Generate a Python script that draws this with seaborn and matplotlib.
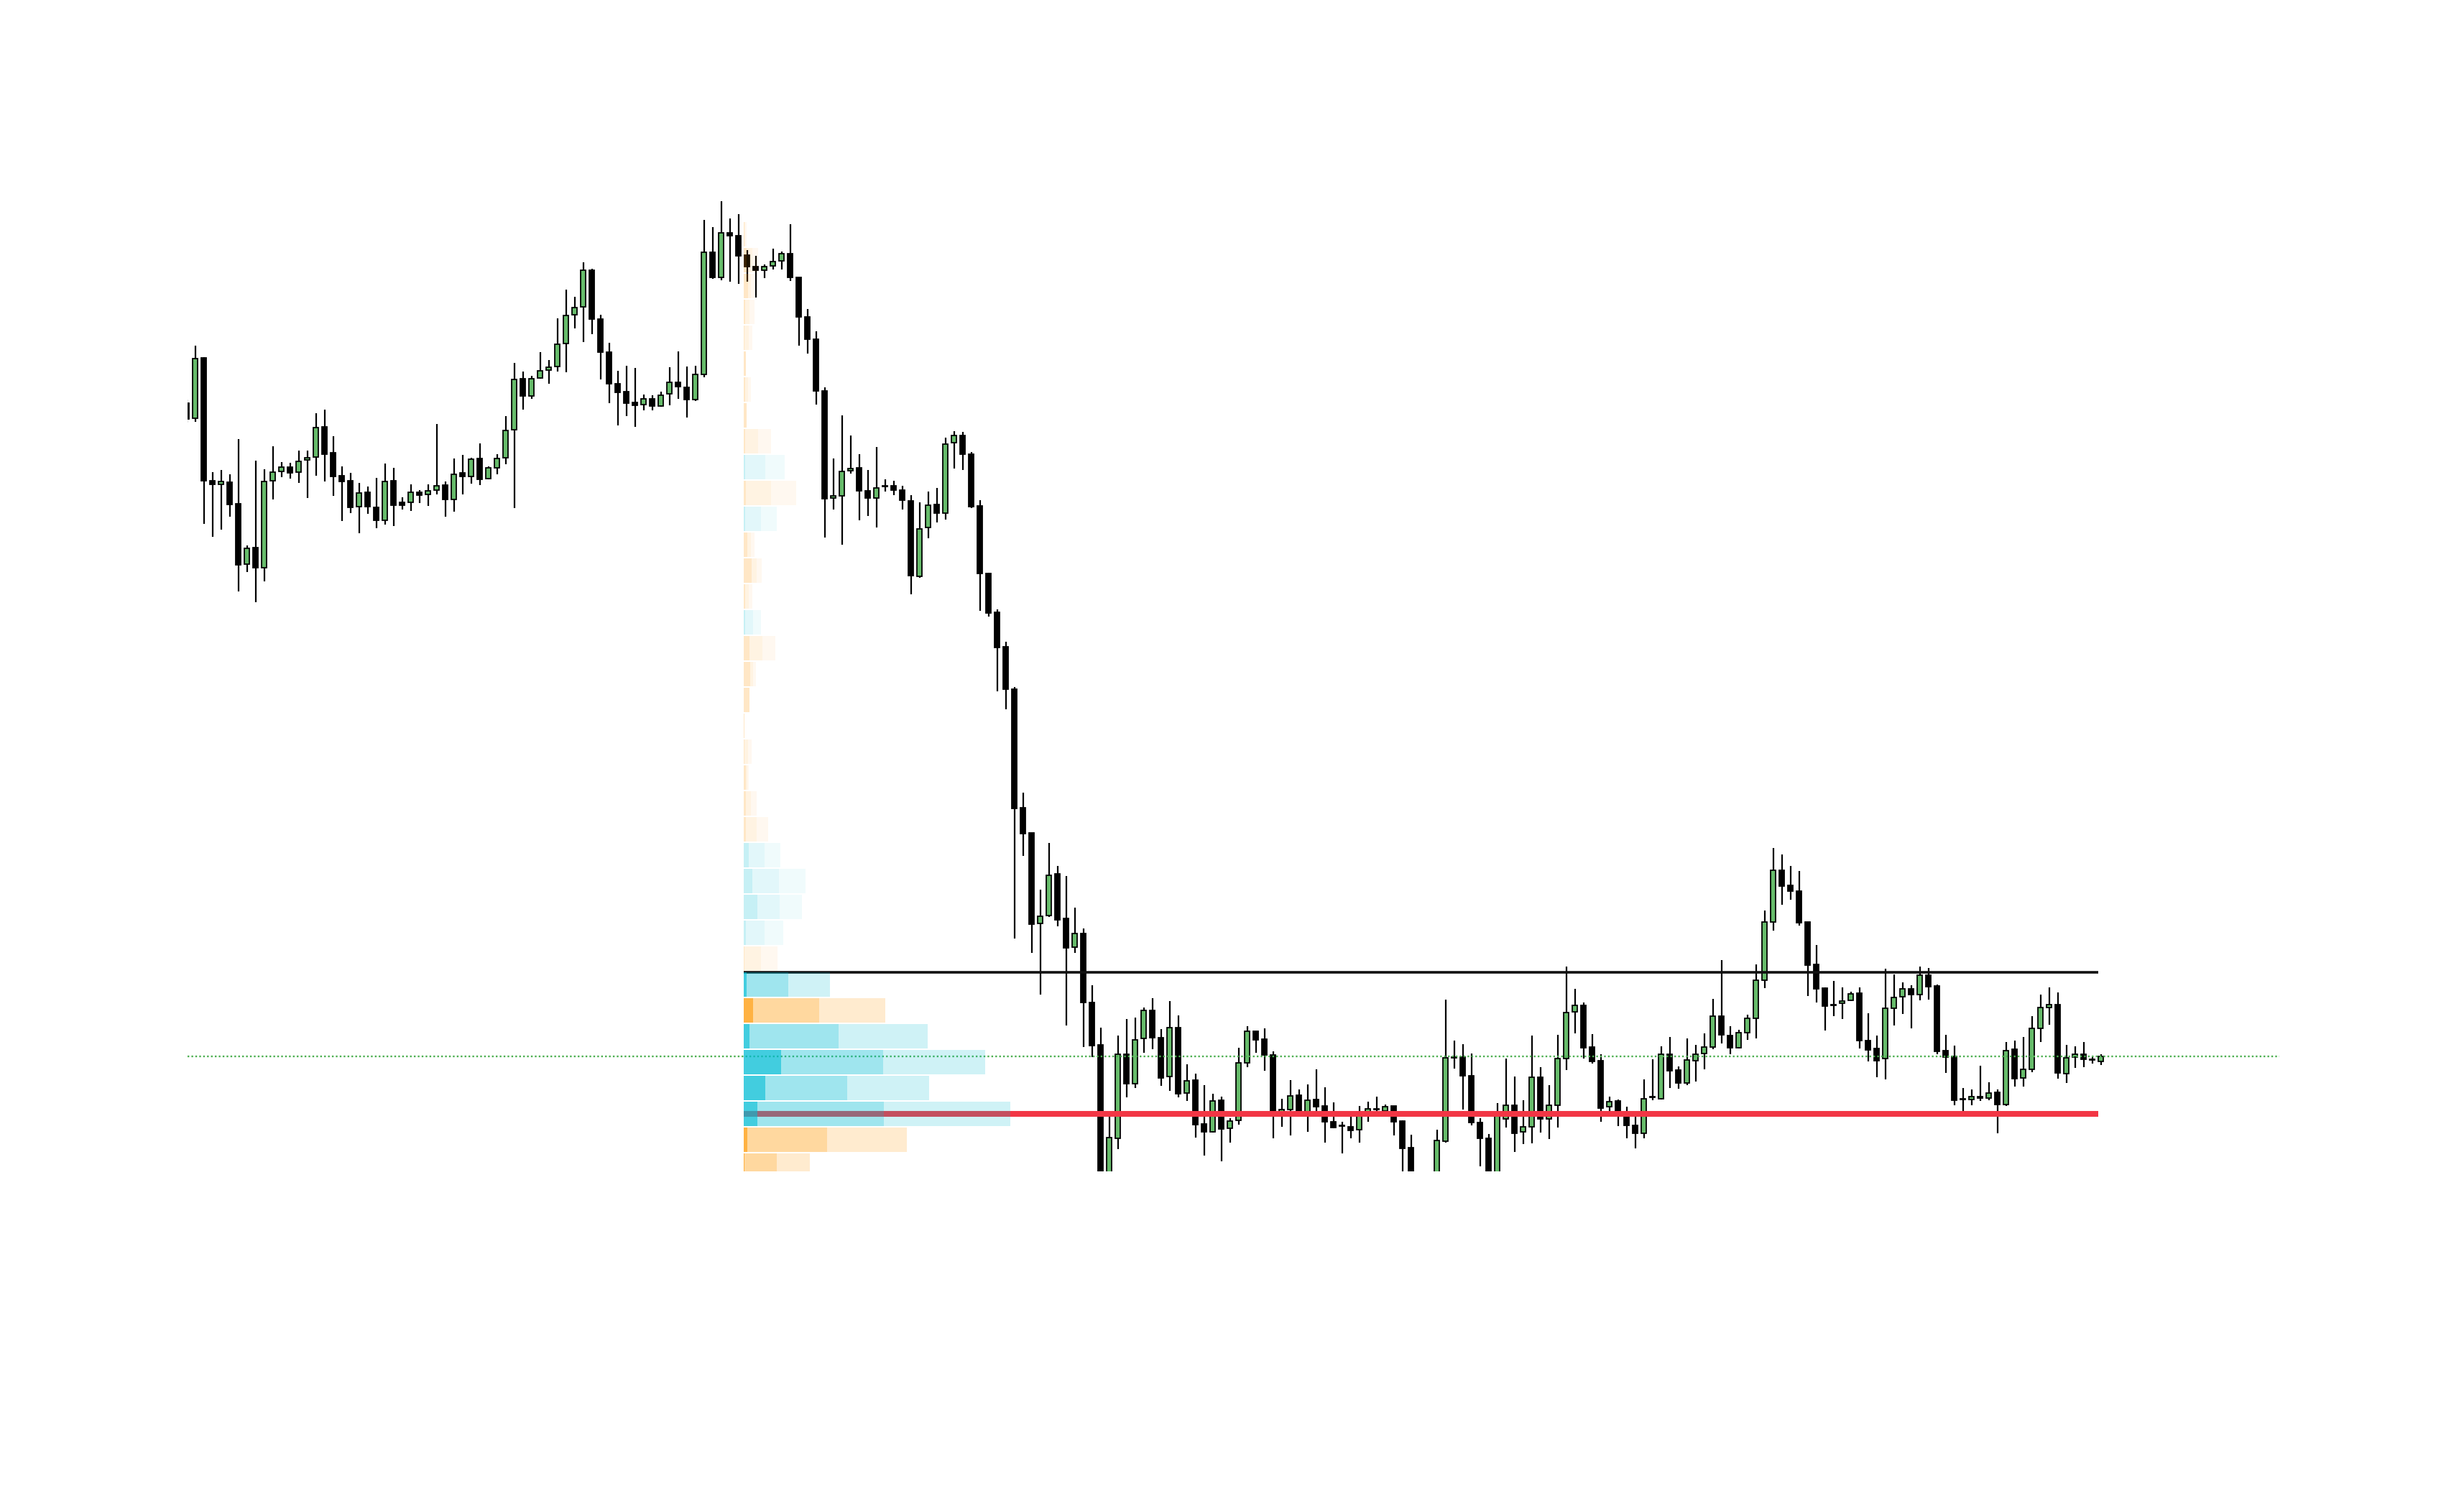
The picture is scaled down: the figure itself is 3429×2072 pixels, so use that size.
import numpy as np
import matplotlib
matplotlib.use("Agg")
import matplotlib.pyplot as plt
import seaborn as sns
from matplotlib.colors import to_rgba

# candles, oldest first (price units)
opens = [
    143.9, 141.8, 150.2, 133.1, 132.6, 132.9, 129.9, 121.5, 123.8, 121.0,
    133.1, 134.4, 135.0, 134.3, 136.0, 136.4, 140.6, 137.0, 133.8, 133.1,
    129.5, 131.5, 129.4, 127.6, 133.1, 130.1, 130.1, 131.5, 131.2, 131.8,
    132.5, 130.5, 134.2, 133.7, 136.2, 133.4, 134.9, 136.3, 140.2, 147.3,
    144.9, 147.4, 148.5, 149.0, 152.2, 156.2, 157.3, 162.4, 155.6, 151.0,
    146.6, 145.5, 144.0, 143.7, 144.5, 143.5, 145.2, 146.8, 146.1, 144.4,
    147.9, 164.9, 161.4, 167.6, 167.2, 164.5, 162.9, 162.4, 163.0, 163.7,
    164.7, 161.4, 155.9, 152.8, 145.6, 130.7, 131.0, 134.5, 134.9, 131.7,
    130.7, 132.4, 132.4, 131.8, 130.3, 119.8, 126.6, 129.8, 128.6, 138.4,
    139.4, 136.8, 129.6, 120.2, 114.8, 110.0, 104.1, 87.6, 84.1, 71.5,
    72.6, 78.4, 72.2, 68.2, 70.1, 60.5, 54.6, 34.5, 41.6, 53.3,
    49.2, 55.5, 59.4, 55.6, 50.2, 57.0, 47.9, 49.7, 43.6, 42.5,
    46.9, 43.0, 44.1, 52.1, 56.5, 55.4, 53.2, 45.0, 45.6, 47.6,
    44.8, 47.0, 46.1, 43.9, 43.4, 43.2, 42.8, 45.2, 45.7, 45.4,
    46.1, 44.0, 40.3, 36.0, 31.0, 35.0, 41.2, 52.9, 52.9, 50.3,
    43.8, 41.6, 35.0, 44.3, 46.2, 42.5, 43.2, 50.1, 44.3, 46.2,
    52.7, 59.2, 60.1, 54.3, 52.4, 46.0, 46.8, 45.2, 43.4, 42.3,
    47.3, 47.1, 53.3, 51.1, 49.3, 52.4, 53.4, 54.3, 58.6, 55.9,
    54.2, 56.3, 58.3, 63.6, 71.7, 78.9, 76.8, 76.0, 71.7, 65.8,
    62.5, 60.2, 60.4, 60.8, 61.8, 55.2, 54.1, 52.7, 59.7, 61.3,
    62.4, 61.6, 64.3, 62.8, 53.8, 53.0, 47.0, 47.0, 47.4, 47.2,
    48.0, 46.3, 54.0, 50.0, 51.2, 56.9, 59.8, 60.2, 50.6, 52.9,
    53.3, 52.6, 52.3,
]
highs = [
    144.4, 151.9, 150.3, 134.3, 134.6, 134.0, 138.9, 124.1, 135.9, 134.7,
    137.9, 135.7, 135.6, 137.3, 137.3, 142.5, 143.0, 139.3, 135.1, 134.2,
    132.8, 132.3, 133.5, 135.5, 134.9, 130.8, 132.6, 131.8, 132.6, 141.0,
    133.0, 136.2, 136.7, 136.3, 138.3, 135.1, 136.8, 142.1, 149.5, 148.3,
    147.7, 151.0, 149.9, 155.7, 159.7, 158.7, 163.5, 162.6, 156.2, 152.3,
    148.4, 149.1, 148.8, 145.1, 145.0, 145.5, 148.9, 151.1, 149.0, 149.1,
    169.4, 168.4, 172.0, 169.6, 170.2, 165.2, 164.4, 163.2, 165.4, 165.0,
    168.8, 161.4, 157.0, 153.9, 146.1, 136.2, 142.2, 139.4, 136.8, 134.6,
    137.8, 133.3, 133.1, 132.4, 131.1, 130.1, 131.6, 132.1, 139.1, 140.0,
    139.9, 137.1, 130.4, 120.3, 115.2, 110.7, 104.4, 89.7, 84.1, 76.2,
    82.7, 79.5, 78.1, 73.7, 70.8, 62.9, 57.0, 45.4, 55.9, 58.2,
    58.4, 59.8, 61.1, 56.8, 60.7, 58.7, 51.9, 50.6, 49.0, 47.8,
    47.4, 44.4, 54.2, 57.2, 56.5, 56.9, 53.7, 47.1, 49.7, 48.4,
    49.1, 51.2, 48.7, 46.6, 43.9, 45.4, 46.1, 46.7, 47.4, 46.3,
    46.1, 44.1, 42.1, 36.4, 36.0, 42.8, 60.9, 55.2, 54.7, 53.4,
    44.4, 42.2, 46.5, 52.7, 50.2, 46.9, 55.9, 51.5, 49.0, 56.0,
    65.5, 62.4, 60.5, 56.1, 53.3, 47.4, 47.0, 46.0, 45.3, 49.8,
    52.6, 54.4, 55.7, 51.6, 55.5, 54.6, 56.2, 61.0, 66.4, 57.2,
    56.7, 58.8, 65.8, 73.3, 82.0, 81.1, 79.5, 78.8, 71.7, 68.5,
    62.6, 63.5, 62.6, 62.0, 62.6, 59.0, 55.9, 65.2, 64.4, 63.3,
    62.9, 65.5, 65.3, 63.0, 56.0, 54.5, 48.6, 48.4, 51.7, 49.4,
    48.4, 55.0, 55.2, 55.7, 58.6, 61.6, 62.6, 61.9, 54.6, 54.4,
    55.0, 52.9, 53.3,
]
lows = [
    141.2, 141.3, 127.1, 125.3, 126.3, 128.1, 117.7, 120.4, 116.2, 119.1,
    130.5, 133.6, 133.4, 132.8, 130.7, 133.8, 133.0, 131.0, 127.5, 128.6,
    125.8, 128.5, 126.5, 127.0, 126.8, 129.1, 128.9, 130.0, 129.6, 131.2,
    128.1, 128.8, 131.2, 132.7, 132.5, 133.3, 134.0, 135.4, 129.3, 143.0,
    144.5, 147.3, 146.6, 148.3, 148.2, 154.3, 152.4, 153.5, 147.2, 143.9,
    140.8, 142.1, 140.6, 142.9, 142.9, 143.4, 143.6, 144.5, 141.9, 144.2,
    147.5, 161.2, 161.0, 160.8, 160.5, 160.8, 158.6, 161.3, 162.5, 162.5,
    160.9, 151.9, 150.8, 143.7, 125.2, 129.1, 124.2, 134.1, 127.6, 128.2,
    126.6, 131.6, 131.1, 129.1, 117.3, 119.6, 125.1, 127.3, 127.7, 134.8,
    134.6, 129.3, 115.0, 114.2, 103.8, 101.3, 69.4, 80.9, 67.4, 61.6,
    72.4, 71.1, 57.3, 67.4, 54.3, 52.9, 31.0, 32.5, 40.1, 47.3,
    48.6, 53.5, 54.0, 48.9, 48.2, 47.3, 46.8, 41.7, 39.2, 42.4,
    38.4, 41.0, 43.5, 51.5, 53.5, 51.0, 41.6, 43.2, 42.0, 44.7,
    42.5, 45.2, 41.0, 43.0, 39.5, 41.6, 41.0, 43.9, 45.1, 45.2,
    42.0, 36.5, 35.0, 30.0, 29.0, 34.0, 41.0, 51.3, 45.6, 43.4,
    37.7, 33.5, 34.0, 43.1, 39.7, 40.8, 40.9, 42.4, 41.5, 43.1,
    51.1, 56.2, 52.7, 52.0, 43.9, 45.2, 43.3, 41.6, 40.2, 41.6,
    46.9, 47.0, 48.6, 48.5, 49.0, 49.5, 51.2, 54.0, 54.8, 53.3,
    54.1, 55.3, 55.5, 62.5, 70.5, 74.1, 74.8, 71.2, 61.4, 60.5,
    56.6, 58.6, 58.2, 60.7, 54.1, 52.3, 50.1, 49.8, 57.3, 58.9,
    56.9, 60.8, 60.9, 53.3, 50.7, 46.2, 45.2, 46.2, 46.8, 46.9,
    42.3, 46.1, 48.8, 48.8, 50.8, 55.0, 57.4, 49.9, 49.3, 51.4,
    51.5, 52.0, 51.8,
]
closes = [
    141.7, 150.1, 133.1, 132.6, 133.0, 129.8, 121.4, 123.7, 121.0, 133.0,
    134.3, 135.0, 134.2, 135.8, 136.3, 140.5, 136.8, 133.7, 133.0, 129.4,
    131.4, 129.5, 127.6, 133.0, 129.7, 129.7, 131.5, 131.1, 131.7, 132.4,
    130.5, 134.0, 133.7, 136.1, 133.3, 134.9, 136.2, 140.1, 147.2, 144.9,
    147.3, 148.4, 148.9, 152.1, 156.1, 157.2, 162.4, 155.6, 151.0, 146.6,
    145.4, 143.9, 143.6, 144.5, 143.5, 145.0, 146.8, 146.2, 144.4, 147.9,
    164.9, 161.4, 167.6, 167.2, 164.4, 162.9, 162.4, 162.9, 163.6, 164.7,
    161.4, 155.9, 152.8, 145.6, 130.6, 131.0, 134.4, 134.8, 131.7, 130.7,
    132.1, 132.3, 131.8, 130.4, 119.9, 126.4, 129.7, 128.6, 138.2, 139.4,
    136.8, 129.5, 120.2, 114.7, 109.9, 104.1, 87.5, 84.0, 71.4, 72.5,
    78.2, 72.0, 68.1, 70.1, 60.5, 54.5, 34.0, 41.7, 53.3, 49.2,
    55.3, 59.4, 55.6, 50.0, 57.0, 47.8, 49.6, 43.5, 42.5, 46.8,
    42.9, 44.0, 52.1, 56.5, 55.3, 53.2, 45.2, 45.6, 47.5, 45.0,
    46.9, 46.0, 43.9, 43.1, 43.3, 42.7, 45.2, 45.7, 45.6, 46.0,
    43.9, 40.2, 36.0, 31.0, 35.0, 41.3, 52.8, 52.8, 50.3, 43.8,
    41.6, 35.0, 44.8, 46.2, 42.3, 43.2, 50.1, 44.3, 46.2, 52.7,
    59.1, 60.1, 54.2, 52.3, 45.8, 46.7, 45.2, 43.4, 42.3, 47.1,
    47.4, 53.3, 51.0, 49.3, 52.5, 53.3, 54.3, 58.6, 56.0, 54.2,
    56.3, 58.3, 63.6, 71.7, 78.9, 76.7, 76.0, 71.6, 65.7, 62.4,
    60.0, 60.1, 60.7, 61.7, 55.2, 53.9, 52.4, 59.7, 61.2, 62.4,
    61.6, 64.3, 62.7, 53.7, 52.9, 46.9, 47.1, 47.4, 47.2, 47.9,
    46.3, 53.8, 49.9, 51.2, 56.9, 59.8, 60.2, 50.7, 52.8, 53.3,
    52.6, 52.5, 53.0,
]

# volume profile, one row per price bin from the top bin down
profile_top = 169.1
bin_size = 3.6
buy_vol = [
    1.5, 8, 4.5, 6.5, 5.5, 0, 4, 0, 18, 30,
    35, 24, 5, 7, 5, 13, 18, 4, 0, 0,
    5, 2, 7.5, 15.5, 29, 49, 50, 29, 23, 62,
    92, 132, 194, 144, 195, 111, 45.5,
]
sell_vol = [
    2.5, 12, 10.5, 8.5, 7, 3.3, 6, 4, 20, 27.5,
    38, 22, 10.5, 18, 6.7, 11, 26, 13, 8, 1,
    6, 5, 10.5, 18.5, 22, 37, 31, 26, 24, 58,
    105, 124, 142, 114, 176, 116, 46.5,
]
value_area_high = 64.7
profile_start = 64.6

sns.set_theme(style="white")
fig = plt.figure(figsize=(17.15, 10.36), dpi=200)
fig.patch.set_facecolor("white")
ax = fig.add_axes([0.0761, 0.2133, 0.8487, 0.6902])
ax.set_facecolor("white")

x = np.arange(len(opens))
o = np.array(opens)
c = np.array(closes)
up = c >= o

# candles
ax.vlines(x, lows, highs, color="black", lw=0.8, zorder=2)
ax.bar(x, c - o, bottom=o, width=0.55,
       color=np.where(up, "#66BB6A", "black"),
       edgecolor="black", linewidth=0.65, zorder=3)

# last price, value area high and point of control
buy = np.array(buy_vol)
sell = np.array(sell_vol)
total = buy + sell
dom = np.maximum(buy, sell)
delta = np.abs(buy - sell)
k = np.arange(len(buy))
bin_top = profile_top - bin_size * k
bar_h = bin_size - 0.2
poc = bin_top[np.argmax(total)] - bar_h / 2
line_end = x[-1] - 0.3

ax.axhline(closes[-1], color="#4CAF50", lw=0.85, ls=(0, (1, 1.3)), zorder=4)
ax.hlines(value_area_high, profile_start, line_end, color="#111111", lw=1.3, zorder=4)
ax.hlines(poc, profile_start, line_end, color="#F23645", lw=2.9, zorder=4)

# profile bars: delta / dominant side / total volume
scale = 30.9 / total.max()
base = np.where(buy > sell, "#00BCD4", "#FF9800")
fade = np.where(bin_top <= value_area_high + 0.05, 1.0, 0.3)
for lo, hi, a in [(0, delta, 0.74), (delta, dom, 0.375), (dom, total, 0.19)]:
    cols = [to_rgba(b, a * f) for b, f in zip(base, fade)]
    ax.barh(bin_top - bar_h, (hi - lo) * scale, left=profile_start + lo * scale,
            height=bar_h, align="edge", color=cols, linewidth=0, zorder=5)

ax.set_xlim(0.108, 242.7)
ax.set_ylim(37.0, 180.0)
ax.axis("off")

fig.savefig("out.png", dpi=200, facecolor="white")
